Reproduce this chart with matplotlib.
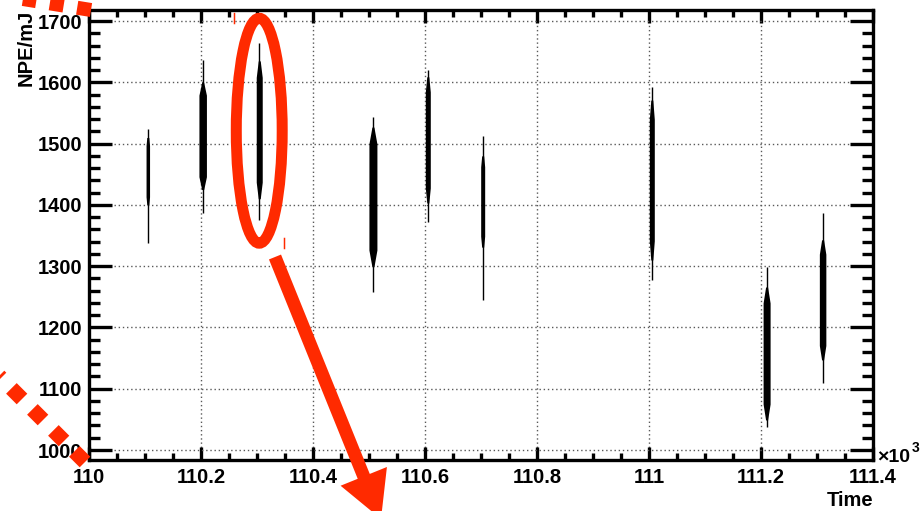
import matplotlib
matplotlib.use("Agg")
import matplotlib.pyplot as plt
from matplotlib.patches import Ellipse, FancyArrow
from matplotlib.lines import Line2D
from matplotlib.ticker import MultipleLocator, FuncFormatter

# ---- data: photoelectrons per mJ for each laser run ----
run_time = [110105, 110203, 110304, 110507, 110605, 110703, 111005, 111210, 111310]
core_low = [1400, 1425, 1410, 1299, 1403, 1331, 1310, 1049, 1147]
core_high = [1510, 1600, 1635, 1527, 1609, 1480, 1571, 1266, 1343]
tail_low = [1338, 1387, 1375, 1258, 1372, 1245, 1277, 1038, 1109]
tail_high = [1524, 1636, 1664, 1543, 1620, 1512, 1592, 1299, 1387]

highlight_run = 2          # run circled in red
highlight_center = 1521    # NPE/mJ at ellipse center
highlight_height = 367     # NPE/mJ span of ellipse

# ---- style ----
core_px = [3.5, 7.5, 6, 8, 5, 4, 5, 7, 6.5]
PX = 1 / 1.389  # points per pixel at 100 dpi
RED = "#ff2a00"
XLIM = (110, 111.4)
AX_W_PX = 784
TAPER = 0.12  # fraction of the dense band that narrows at each end

plt.rcParams["font.family"] = ["Liberation Sans", "DejaVu Sans"]
plt.rcParams["font.weight"] = "bold"

W, H = 923, 511
fig = plt.figure(figsize=(W / 100, H / 100), dpi=100)
ax = fig.add_axes([89 / W, 51 / H, AX_W_PX / W, 450 / H])

# each run: sparse tails as a thin line, dense band as a filled spindle
xs = [t / 1000 for t in run_time]
ax.vlines(xs, tail_low, tail_high, colors="k", linewidth=1.4 * PX,
          capstyle="butt", zorder=3)
px_to_x = (XLIM[1] - XLIM[0]) / AX_W_PX
for x, cl, ch, w in zip(xs, core_low, core_high, core_px):
    d = TAPER * (ch - cl)
    ys = [cl, cl + d, ch - d, ch]
    hw = [1.0 * px_to_x, w / 2 * px_to_x, w / 2 * px_to_x, 1.0 * px_to_x]
    ax.fill_betweenx(ys, [x - h for h in hw], [x + h for h in hw],
                     color="k", linewidth=0, zorder=3)

ax.set_xlim(*XLIM)
ax.set_ylim(983.7, 1718)

ax.xaxis.set_major_locator(MultipleLocator(0.2))
ax.xaxis.set_minor_locator(MultipleLocator(0.05))
ax.yaxis.set_major_locator(MultipleLocator(100))
ax.yaxis.set_minor_locator(MultipleLocator(20))
ax.xaxis.set_major_formatter(FuncFormatter(lambda v, p: f"{round(v, 1):g}"))
ax.yaxis.set_major_formatter(FuncFormatter(lambda v, p: f"{int(round(v))}"))

ax.tick_params(which="both", direction="in", top=True, right=True,
               width=2.4, labelsize=14.5, colors="k")
ax.tick_params(axis="x", which="major", length=9.5, pad=6)
ax.tick_params(axis="x", which="minor", length=5)
ax.tick_params(axis="y", which="major", length=16.5, pad=5)
ax.tick_params(axis="y", which="minor", length=8)
for lab in ax.get_xticklabels() + ax.get_yticklabels():
    lab.set_fontweight("bold")

for s in ax.spines.values():
    s.set_linewidth(2.4)

ax.grid(True, which="major", color="0.35", linestyle=(0, (1, 2)), linewidth=1.0)
ax.set_axisbelow(True)

# axis titles
fig.text(26 / W, 1 - 10 / H, "NPE/mJ", rotation=90, ha="center", va="top",
         fontsize=14.5, fontweight="bold")
fig.text(873 / W, 1 - 506 / H, "Time", ha="right", va="baseline",
         fontsize=14.5, fontweight="bold")
fig.text(877 / W, 1 - 462 / H, "×10", ha="left", va="baseline",
         fontsize=14, fontweight="bold")
fig.text(912 / W, 1 - 452 / H, "3", ha="left", va="baseline",
         fontsize=10, fontweight="bold")

# red ellipse around the highlighted run
ax.add_patch(Ellipse((xs[highlight_run], highlight_center), 0.082,
                     highlight_height, fill=False, edgecolor=RED,
                     linewidth=11 * PX, clip_on=False, zorder=5))

# overlay in pixel coordinates for the zoom guides
ov = fig.add_axes([0, 0, 1, 1], zorder=10)
ov.set_xlim(0, W)
ov.set_ylim(H, 0)
ov.axis("off")
ov.patch.set_alpha(0)

ov.add_patch(FancyArrow(275, 257, 106, 262, width=13, head_width=50, head_length=46,
                        length_includes_head=True, color=RED, linewidth=0))

dash = (0, (1.0, 0.98))
ov.add_line(Line2D([85, -30], [462, 347], color=RED, linewidth=15 * PX,
                   linestyle=dash, dash_capstyle="butt"))
ov.add_line(Line2D([91, -107], [10, -22], color=RED, linewidth=14 * PX,
                   linestyle=dash, dash_capstyle="butt"))
ov.add_line(Line2D([234, 234], [13, 23], color=RED, linewidth=1.5 * PX))
ov.add_line(Line2D([284, 284], [238, 248], color=RED, linewidth=1.5 * PX))

fig.savefig("out.png", dpi=100)
